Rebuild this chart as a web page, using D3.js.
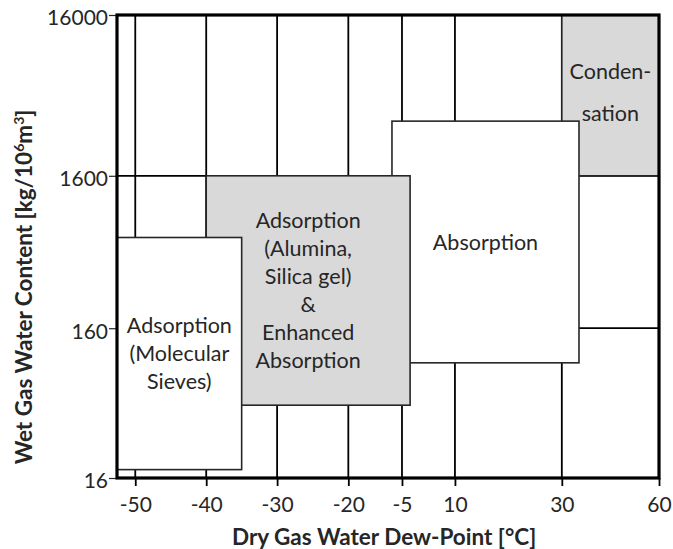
<!DOCTYPE html>
<meta charset="utf-8">
<script src="https://d3js.org/d3.v7.min.js"></script>
<style>
  body { margin: 0; background: #fff; }
  text { font-family: Lato, "Open Sans", sans-serif; fill: #262626; }
</style>
<svg id="chart"></svg>
<script>

// axis ticks
const dewTicks = [-50, -40, -30, -20, -5, 10, 30, 60];
const waterTicks = [16, 160, 1600, 16000];

// the x axis is drawn unevenly in the source, so it is piecewise
const dewStops = [-52.6, -50, -40, -30, -20, -5, 10, 30, 60];
const dewStopPos = [0, 0.0337, 0.1646, 0.2954, 0.4268, 0.5258, 0.6235, 0.8207, 1];
const waterStopPos = [0, 0.3235, 0.6527, 1];

// process regions (drawn back to front)
const regionLabels = [
  ["Conden-", "sation"],
  ["Absorption"],
  ["Adsorption", "(Alumina,", "Silica gel)", "&", "Enhanced", "Absorption"],
  ["Adsorption", "(Molecular", "Sieves)"]
];
const regionDewMin = [30, -7.8, -40, -52.6];
const regionDewMax = [60, 35.3, -2.7, -35];
const regionWaterMin = [1600, 94, 49, 18.2];
const regionWaterMax = [16000, 3500, 1600, 630];
const regionShaded = [true, false, true, false];

let svg = d3.select("#chart"),
    width = 673,
    height = 549,
    margin = {top: 15, right: 14, bottom: 71, left: 117},
    plotW = width - margin.left - margin.right,
    plotH = height - margin.top - margin.bottom;

svg.attr("width", width).attr("height", height);

let x = d3.scaleLinear()
    .domain(dewStops)
    .range(dewStopPos.map(p => p * plotW));

let y = d3.scaleLog()
    .domain(waterTicks)
    .range(waterStopPos.map(p => plotH - p * plotH));

let g = svg.append("g")
    .attr("transform", `translate(${margin.left},${margin.top})`);

// grid lines
g.append("g")
  .selectAll("line")
  .data(dewTicks)
  .join("line")
    .attr("x1", d => x(d)).attr("x2", d => x(d))
    .attr("y1", 0).attr("y2", plotH)
    .attr("stroke", "#000")
    .attr("stroke-width", 1.8);

g.append("g")
  .selectAll("line")
  .data(waterTicks.slice(1, -1))
  .join("line")
    .attr("x1", 0).attr("x2", plotW)
    .attr("y1", d => y(d)).attr("y2", d => y(d))
    .attr("stroke", "#000")
    .attr("stroke-width", 1.8);

// regions
let regions = regionLabels.map((lines, i) => ({
  lines: lines,
  x0: regionDewMin[i], x1: regionDewMax[i],
  y0: regionWaterMin[i], y1: regionWaterMax[i],
  shaded: regionShaded[i]
}));

let box = g.append("g")
  .selectAll("g")
  .data(regions)
  .join("g");

box.append("rect")
    .attr("x", d => x(d.x0))
    .attr("y", d => y(d.y1))
    .attr("width", d => x(d.x1) - x(d.x0))
    .attr("height", d => y(d.y0) - y(d.y1))
    .attr("fill", d => d.shaded ? "#d9d9d9" : "#fff")
    .attr("stroke", "#262626")
    .attr("stroke-width", 1.6);

box.append("text")
    .attr("text-anchor", "middle")
    .style("font-size", "21.5px")
    .each(function(d) {
      let lh = d.lines.length == 2 ? 42 : 28;
      let cx = (x(d.x0) + x(d.x1)) / 2;
      let cy = (y(d.y0) + y(d.y1)) / 2 - (d.lines.length == 2 ? 3 : 0);
      let top = cy - lh * (d.lines.length - 1) / 2;
      d3.select(this).selectAll("tspan")
        .data(d.lines)
        .join("tspan")
          .attr("x", cx)
          .attr("y", (l, j) => top + j * lh)
          .attr("dy", "0.35em")
          .text(l => l);
    });

// axes
let xAxis = g.append("g")
    .attr("transform", `translate(0,${plotH})`)
    .call(d3.axisBottom(x).tickValues(dewTicks).tickFormat(d => String(d))
      .tickSize(8).tickPadding(11).tickSizeOuter(0));
xAxis.selectAll("line").attr("stroke", "#000").attr("stroke-width", 1.8);
xAxis.selectAll("text").style("font-size", "21px");
xAxis.select(".domain").remove();

let yAxis = g.append("g")
    .call(d3.axisLeft(y).tickValues(waterTicks).tickFormat(d => String(d))
      .tickSize(8).tickPadding(1).tickSizeOuter(0));
yAxis.selectAll("line").attr("stroke", "#262626").attr("stroke-width", 1.2);
yAxis.selectAll("text").style("font-size", "21px").attr("dy", "0.47em");
yAxis.select(".domain").remove();

// frame
g.append("rect")
    .attr("width", plotW)
    .attr("height", plotH)
    .attr("fill", "none")
    .attr("stroke", "#000")
    .attr("stroke-width", 3.2);

// axis titles
svg.append("text")
    .attr("x", margin.left + x(-10))
    .attr("y", 545)
    .attr("text-anchor", "middle")
    .style("font-size", "22.5px")
    .style("font-weight", "bold")
    .text("Dry Gas Water Dew-Point [°C]");

let yt = svg.append("text")
    .attr("transform", "translate(32,287) rotate(-90)")
    .attr("text-anchor", "middle")
    .style("font-size", "22.5px")
    .style("font-weight", "bold");
yt.append("tspan").text("Wet Gas Water Content [kg/10");
yt.append("tspan").attr("baseline-shift", "super").style("font-size", "14px").text("6");
yt.append("tspan").text("m");
yt.append("tspan").attr("baseline-shift", "super").style("font-size", "14px").text("3");
yt.append("tspan").text("]");

</script>
